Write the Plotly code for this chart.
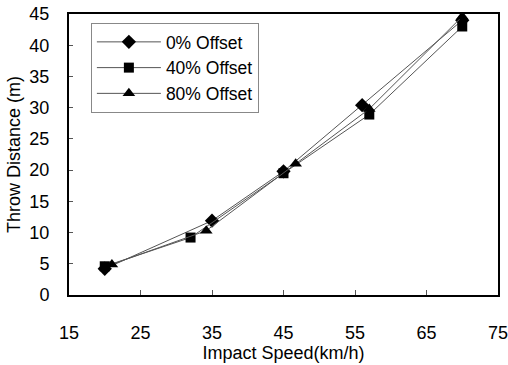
import plotly.graph_objects as go

speed_0 = [20, 35, 45, 56, 70]
throw_0 = [4.2, 11.9, 19.8, 30.4, 44.0]
speed_40 = [20, 32, 45, 57, 70]
throw_40 = [4.6, 9.2, 19.5, 28.9, 43.0]
speed_80 = [21, 34.2, 46.7, 57, 70]
throw_80 = [4.9, 10.3, 21.0, 29.8, 44.6]

x_ticks = [15, 25, 35, 45, 55, 65, 75]
y_ticks = [0, 5, 10, 15, 20, 25, 30, 35, 40, 45]

font = "Liberation Sans, Arial, sans-serif"

fig = go.Figure()
series = [
    ("0% Offset", speed_0, throw_0, "diamond", 11),
    ("40% Offset", speed_40, throw_40, "square", 10),
    ("80% Offset", speed_80, throw_80, "triangle-up", 11),
]
for name, xs, ys, sym, size in series:
    fig.add_trace(go.Scatter(
        x=xs, y=ys, name=name, mode="lines+markers",
        line=dict(color="#555555", width=1),
        marker=dict(symbol=sym, size=size, color="black"),
    ))

fig.update_layout(
    width=508, height=365,
    margin=dict(l=69, r=10, t=14, b=70),
    paper_bgcolor="white", plot_bgcolor="white",
    font=dict(family=font, size=18, color="black"),
    showlegend=True,
    legend=dict(
        x=0.051, y=0.968, xanchor="left", yanchor="top",
        bordercolor="#888888", borderwidth=1, bgcolor="white",
        font=dict(family=font, size=17.5, color="black"),
        itemwidth=64, tracegroupgap=0,
    ),
)
fig.update_xaxes(
    range=[15, 75], tickvals=x_ticks, ticktext=[str(v) for v in x_ticks],
    showgrid=False, zeroline=False,
    showline=True, linecolor="black", linewidth=2, mirror=True,
    ticks="inside", ticklen=5, tickcolor="#555555", tickwidth=1,
    ticklabelstandoff=20, ticklabeloverflow="allow",
    title=dict(text="Impact Speed(km/h)", standoff=0, font=dict(size=18)),
    automargin=False,
)
fig.update_yaxes(
    range=[0, 45], tickvals=y_ticks, ticktext=[str(v) for v in y_ticks],
    showgrid=False, zeroline=False,
    showline=True, linecolor="black", linewidth=2, mirror=True,
    ticks="inside", ticklen=4, tickcolor="#555555", tickwidth=1,
    ticklabelstandoff=14, ticklabeloverflow="allow",
    title=dict(text="Throw Distance (m)", standoff=4, font=dict(size=18)),
    automargin=False,
)

fig.write_html("out.html")
